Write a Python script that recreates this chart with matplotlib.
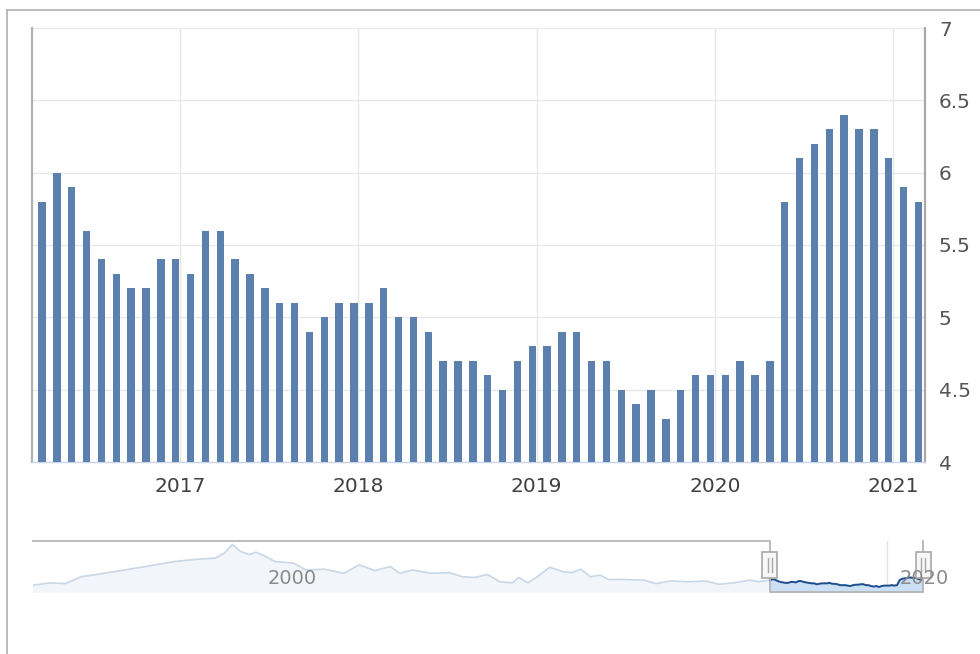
import numpy as np
import matplotlib.pyplot as plt
from matplotlib.lines import Line2D
from matplotlib.patches import Rectangle
from matplotlib.transforms import blended_transform_factory

plt.rcParams['font.family'] = ['DejaVu Sans']

# monthly values, Apr 2016 .. Mar 2021
start_year = 2016
start_month = 4
values = [5.8, 6.0, 5.9, 5.6, 5.4, 5.3, 5.2, 5.2, 5.4, 5.4, 5.3, 5.6,
          5.6, 5.4, 5.3, 5.2, 5.1, 5.1, 4.9, 5.0, 5.1, 5.1, 5.1, 5.2,
          5.0, 5.0, 4.9, 4.7, 4.7, 4.7, 4.6, 4.5, 4.7, 4.8, 4.8, 4.9,
          4.9, 4.7, 4.7, 4.5, 4.4, 4.5, 4.3, 4.5, 4.6, 4.6, 4.6, 4.7,
          4.6, 4.7, 5.8, 6.1, 6.2, 6.3, 6.4, 6.3, 6.3, 6.1, 5.9, 5.8]
year_ticks = [2017, 2018, 2019, 2020, 2021]
y_ticks = [4, 4.5, 5, 5.5, 6, 6.5, 7]

# longer history shown in the navigator strip
hist_years = [1992.55, 1993.09, 1993.59, 1994.09, 1994.69, 1995.50, 1996.30, 1997.10,
              1997.91, 1998.41, 1998.71, 1998.95, 1999.21, 1999.51, 1999.71, 2000.01,
              2000.32, 2000.92, 2001.31, 2001.92, 2002.53, 2003.03, 2003.53, 2004.03,
              2004.33, 2004.73, 2005.33, 2005.94, 2006.34, 2006.74, 2007.15, 2007.55,
              2007.95, 2008.15, 2008.45, 2008.75, 2009.15, 2009.56, 2009.86, 2010.15,
              2010.46, 2010.77, 2011.05, 2011.57, 2012.18, 2012.56, 2013.07, 2013.57,
              2014.17, 2014.58, 2015.06, 2015.58, 2015.87]
hist_values = [4.7, 5.2, 5.05, 6.55, 7.15, 8.05, 8.95, 9.9,
               10.45, 10.65, 11.8, 13.65, 12.15, 11.4, 11.95, 11.05,
               9.9, 9.55, 8.05, 8.2, 7.3, 9.15, 7.9, 8.8,
               7.3, 8.05, 7.3, 7.45, 6.55, 6.4, 7.05, 5.45,
               5.2, 6.4, 5.2, 6.55, 8.65, 7.7, 7.45, 8.2,
               6.55, 6.9, 5.95, 5.95, 5.8, 5.05, 5.65, 5.45,
               5.6, 4.9, 5.2, 5.8, 5.45]
nav_labels = [2000, 2020]

# bars sit a few days before the month start in the original
shift = -0.024
x = np.array([start_year + (start_month - 1 + i) / 12 for i in range(len(values))]) + shift

fig = plt.figure(figsize=(9.8, 6.54), dpi=100)

# ---- main chart ----
ax = fig.add_axes([32 / 980, 1 - 462 / 654, 893 / 980, 434 / 654])
ax.bar(x, values, width=0.5 / 12, color='#5b80ae', bottom=0, zorder=3)
ax.set_ylim(4, 7)
ax.set_xlim(2017 - 148 / 178.25, 2021 + 32 / 178.25)
ax.set_yticks(y_ticks)
ax.set_yticklabels([f'{v:g}' for v in y_ticks])
ax.set_xticks(year_ticks)
ax.set_xticklabels([str(y) for y in year_ticks])
ax.yaxis.tick_right()
ax.tick_params(axis='y', length=0, pad=10, labelsize=14.5, labelcolor='#555555')
ax.tick_params(axis='x', length=0, pad=11, labelsize=14.5, labelcolor='#404040')
ax.grid(True, color='#e8e8e8', linewidth=1, zorder=0)
ax.set_axisbelow(True)
ax.spines['top'].set_visible(False)
ax.spines['left'].set_color('#b0b0b0')
ax.spines['left'].set_linewidth(1.6)
ax.spines['right'].set_color('#a8a8a8')
ax.spines['right'].set_linewidth(1.6)
ax.spines['bottom'].set_color('#ccd6eb')
ax.spines['bottom'].set_linewidth(1)

# ---- navigator ----
nav_x = np.concatenate([hist_years, x])
nav_y = np.concatenate([hist_values, values])
nav = fig.add_axes([33 / 980, 1 - 592 / 654, 890 / 980, 51 / 654])
nav_bottom, nav_top = 3.2, 14.4
nav.set_xlim(nav_x[0], nav_x[-1])
nav.set_ylim(nav_bottom, nav_top)
nav.axis('off')

nav.axvline(2020, color='#e3e3e3', linewidth=1, zorder=0)
nav.fill_between(nav_x, nav_y, nav_bottom, color='#f2f6fb', zorder=1)
nav.plot(nav_x, nav_y, color='#c9d7e6', linewidth=1.2, zorder=2)
sel = nav_x >= x[0]
nav.fill_between(nav_x[sel], nav_y[sel], nav_bottom, color='#cbdff5', zorder=2)
nav.plot(nav_x[sel], nav_y[sel], color='#1f4f8c', linewidth=1.4, zorder=3)

lo, hi = x[0], x[-1]
nav.plot([nav_x[0], lo, lo, hi, hi], [nav_top, nav_top, nav_bottom, nav_bottom, nav_top],
         color='#b5b5b5', linewidth=1.3, clip_on=False, zorder=4)

px_per_year = 890 / (nav_x[-1] - nav_x[0])
hw = 7.5 / px_per_year
trans = blended_transform_factory(nav.transData, nav.transAxes)
for cx in (lo, hi):
    nav.add_patch(Rectangle((cx - hw, 0.27), 2 * hw, 0.51, transform=trans,
                            facecolor='#f7f7f7', edgecolor='#a8a8a8', linewidth=1.2,
                            clip_on=False, zorder=5))
    for dx in (-1.8, 1.8):
        nav.add_line(Line2D([cx + dx / px_per_year] * 2, [0.40, 0.66], transform=trans,
                            color='#a8a8a8', linewidth=1, clip_on=False, zorder=6))

for yr, off in zip(nav_labels, [0.1, 0.4]):
    nav.text(yr + off, 0.27, str(yr), transform=trans, ha='left', va='center',
             fontsize=14, color='#8a8a8a', zorder=7, clip_on=False)

# outer frame
fig.add_artist(Line2D([7 / 980, 1], [1 - 10 / 654] * 2, color='#b0b0b0', linewidth=1.2))
fig.add_artist(Line2D([7 / 980] * 2, [0, 1 - 10 / 654], color='#b0b0b0', linewidth=1.2))

fig.savefig('out.png', dpi=100)
